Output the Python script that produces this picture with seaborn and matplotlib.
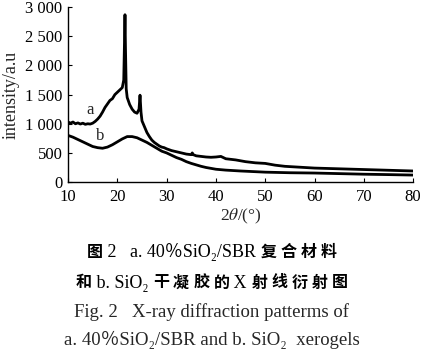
import matplotlib
matplotlib.use("Agg")
import matplotlib.pyplot as plt
from matplotlib.offsetbox import TextArea, HPacker, AnnotationBbox
import seaborn as sns
import pandas as pd

# ---- data ----
theta_a = [10, 10.5, 11, 11.5, 12, 12.5, 13, 13.5, 14, 14.5, 15, 15.5, 16, 16.5, 17, 17.5,
           18, 18.5, 19, 19.5, 20, 20.5, 21, 21.3, 21.45, 21.55, 21.65, 21.8, 22, 22.5, 23,
           23.5, 24, 24.4, 24.6, 24.8, 25, 25.5, 26, 26.5, 27, 27.5, 28, 28.5, 29, 29.5, 30,
           31, 32, 33, 34, 35, 35.2, 35.4, 36, 37, 38, 39, 40, 41, 42, 44, 46, 48, 50, 52,
           54, 56, 58, 60, 62, 64, 66, 68, 70, 72, 74, 76, 78, 80]
int_a = [1030, 1010, 1030, 1000, 1015, 995, 1010, 990, 1000, 995, 1010, 1040, 1080, 1130, 1200, 1280,
         1340, 1400, 1430, 1500, 1540, 1580, 1620, 1750, 2400, 2870, 2300, 1600, 1450, 1330, 1250,
         1200, 1180, 1250, 1490, 1200, 1050, 950, 850, 780, 720, 680, 650, 620, 600, 590, 570,
         540, 520, 500, 480, 470, 500, 470, 450, 440, 430, 425, 430, 440, 400, 380, 350, 330, 320, 290,
         270, 260, 250, 240, 235, 230, 225, 220, 215, 210, 205, 200, 195, 190]

theta_b = [10, 11, 12, 13, 14, 15, 16, 17, 18, 19, 20, 21, 22, 23, 24, 25, 26, 27, 28, 29, 30,
           31, 32, 33, 34, 35, 36, 37, 38, 39, 40, 42, 45, 50, 55, 60, 65, 70, 75, 80]
int_b = [800, 770, 730, 690, 650, 610, 590, 580, 600, 640, 690, 740, 780, 780, 760, 720, 680, 630,
         580, 530, 500, 460, 420, 390, 350, 320, 295, 270, 250, 235, 220, 205, 190, 170, 160, 155,
         145, 135, 128, 120]

x_ticks = [10, 20, 30, 40, 50, 60, 70, 80]
y_ticks = [0, 500, 1000, 1500, 2000, 2500, 3000]
y_tick_labels = ["0", "500", "1 000", "1 500", "2 000", "2 500", "3 000"]

# caption: (text, is_chinese) runs per line
caption_cn_1 = [("图", True), (" 2   a. 40％SiO₂/SBR ", False), ("复合材料", True)]
caption_cn_2 = [("和", True), (" b. SiO₂ ", False), ("干凝胶的", True), (" X ", False),
                ("射线衍射图", True)]
caption_en_1 = "Fig. 2   X-ray diffraction patterms of"
caption_en_2 = "a. 40％SiO₂/SBR and b. SiO₂  xerogels"

df = pd.concat([
    pd.DataFrame({"theta": theta_a, "intensity": int_a, "sample": "a"}),
    pd.DataFrame({"theta": theta_b, "intensity": int_b, "sample": "b"}),
])

sns.set_style("ticks")
serif = ["Liberation Serif", "DejaVu Serif"]
plt.rcParams["font.family"] = serif
plt.rcParams["mathtext.fontset"] = "stix"

fig = plt.figure(figsize=(4.39, 3.57), dpi=100)
ax = fig.add_axes([0.155, 0.490, 0.786, 0.490])

sns.lineplot(data=df, x="theta", y="intensity", hue="sample",
             palette={"a": "black", "b": "black"}, linewidth=2.0,
             legend=False, ax=ax, estimator=None, sort=False)

ax.set_xlim(10, 80)
ax.set_ylim(0, 3000)
ax.set_xticks(x_ticks)
ax.set_yticks(y_ticks)
ax.set_yticklabels(y_tick_labels)
ax.tick_params(direction="in", length=3, width=0.8, labelsize=12, colors="black")
ax.tick_params(axis="x", pad=5)
ax.tick_params(axis="y", pad=4)
sns.despine(ax=ax)
for s in ("left", "bottom"):
    ax.spines[s].set_linewidth(1.0)
    ax.spines[s].set_color("black")

ax.set_xlabel("2$\\theta$/(°)", fontsize=12.5, labelpad=1)
ax.set_ylabel("intensity/a.u", fontsize=13, labelpad=4)

ax.text(14.5, 1230, "a", fontsize=12, ha="center", va="center")
ax.text(16.5, 790, "b", fontsize=12, ha="center", va="center")

cap_fam = ["Liberation Serif", "Noto Sans CJK SC", "DejaVu Serif"]
cjk_fam = ["Noto Sans CJK SC", "DejaVu Sans"]


def cn_line(runs, y):
    children = []
    for t, is_cn in runs:
        if is_cn:
            chars = [TextArea(c, textprops=dict(family=cjk_fam, fontweight="bold",
                                                 fontsize=11.5, color="black"))
                     for c in t]
            children.append(HPacker(children=chars, align="baseline", pad=0, sep=3))
        else:
            children.append(TextArea(t, textprops=dict(family=cap_fam, fontsize=13,
                                                       color="black")))
    box = HPacker(children=children, align="baseline", pad=0, sep=0)
    ab = AnnotationBbox(box, (212 / 439, 1 - y / 357), xycoords="figure fraction",
                        frameon=False, box_alignment=(0.5, 0.5), pad=0)
    fig.add_artist(ab)


cn_line(caption_cn_1, 252)
cn_line(caption_cn_2, 283)
for t, y in ((caption_en_1, 312), (caption_en_2, 340)):
    fig.text(212 / 439, 1 - y / 357, t, ha="center", va="center",
             fontsize=13.5, family=cap_fam)

fig.savefig("out.png", dpi=100, facecolor="white")
